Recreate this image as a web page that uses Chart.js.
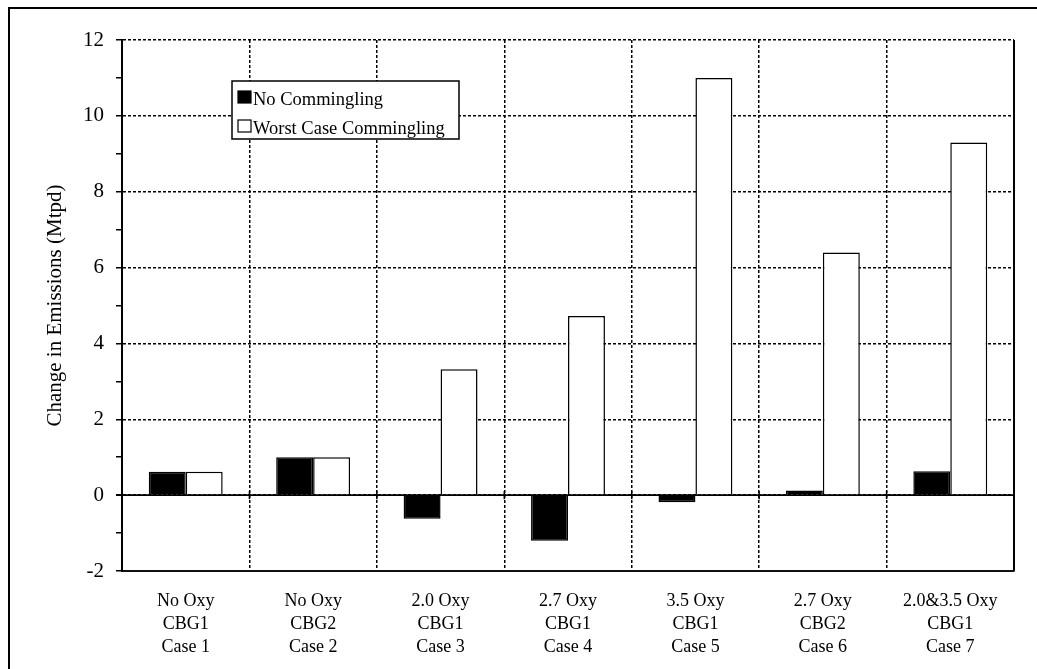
<!DOCTYPE html>
<html>
<head>
<meta charset="utf-8">
<title>Change in Emissions</title>
<script src="https://cdn.jsdelivr.net/npm/chart.js@4.4.1/dist/chart.umd.min.js"></script>
<style>
  html, body { margin: 0; padding: 0; background: #fff; }
  #wrap { width: 1037px; height: 669px; }
</style>
</head>
<body>
<div id="wrap"><canvas id="c" width="1037" height="669"></canvas></div>
<script>
// Scenario labels (three lines each)
const categories = [
  ['No Oxy', 'CBG1', 'Case 1'],
  ['No Oxy', 'CBG2', 'Case 2'],
  ['2.0 Oxy', 'CBG1', 'Case 3'],
  ['2.7 Oxy', 'CBG1', 'Case 4'],
  ['3.5 Oxy', 'CBG1', 'Case 5'],
  ['2.7 Oxy', 'CBG2', 'Case 6'],
  ['2.0&3.5 Oxy', 'CBG1', 'Case 7']
];
const seriesNames = ['No Commingling', 'Worst Case Commingling'];
const noCommingling = [0.62, 1.0, -0.62, -1.2, -0.19, 0.12, 0.63];
const worstCase = [0.62, 1.0, 3.32, 4.72, 11.0, 6.4, 9.3];
const yMin = -2, yMax = 12;
const yTickLabels = ['-2', '0', '2', '4', '6', '8', '10', '12'];
const yTitle = 'Change in Emissions (Mtpd)';

const SERIF = "'Liberation Serif', 'Times New Roman', serif";

// Frame, solid zero line, right edge and in-plot legend
const decorations = {
  id: 'decorations',
  beforeDraw(chart) {
    const { ctx, width, height } = chart;
    ctx.save();
    ctx.fillStyle = '#fff';
    ctx.fillRect(0, 0, width, height);
    ctx.restore();
  },
  afterDatasetsDraw(chart) {
    const { ctx, chartArea: a, scales } = chart;
    const y0 = scales.y.getPixelForValue(0);
    ctx.save();
    ctx.strokeStyle = '#000';
    ctx.lineWidth = 1.6;
    ctx.setLineDash([]);
    ctx.beginPath();
    ctx.moveTo(a.left - 6, y0);
    ctx.lineTo(a.right, y0);
    ctx.stroke();
    // small marks at category boundaries on the zero line
    const n = chart.data.labels.length;
    const step = (a.right - a.left) / n;
    ctx.lineWidth = 1.5;
    for (let i = 1; i < n; i++) {
      const x = a.left + i * step;
      ctx.beginPath();
      ctx.moveTo(x, y0 - 4);
      ctx.lineTo(x, y0 + 4);
      ctx.stroke();
    }
    // solid right edge of the plot
    ctx.lineWidth = 2;
    ctx.beginPath();
    ctx.moveTo(a.right, a.top);
    ctx.lineTo(a.right, a.bottom);
    ctx.stroke();
    ctx.restore();
  },
  afterDraw(chart) {
    const { ctx, width, height } = chart;
    ctx.save();
    // outer frame
    ctx.strokeStyle = '#000';
    ctx.lineWidth = 2;
    ctx.beginPath();
    ctx.moveTo(9, height);
    ctx.lineTo(9, 8);
    ctx.lineTo(width, 8);
    ctx.stroke();

    // legend box
    const bx = 232, by = 81, bw = 227, bh = 58;
    ctx.fillStyle = '#fff';
    ctx.fillRect(bx, by, bw, bh);
    ctx.lineWidth = 1.5;
    ctx.strokeRect(bx, by, bw, bh);
    ctx.font = '18.5px ' + SERIF;
    ctx.textBaseline = 'alphabetic';
    ctx.textAlign = 'left';
    chart.data.datasets.forEach((ds, i) => {
      const rowY = by + 10 + i * 29;
      ctx.fillStyle = ds.backgroundColor;
      ctx.fillRect(238, rowY, 13, 12);
      ctx.lineWidth = 1.2;
      ctx.strokeStyle = '#000';
      ctx.strokeRect(238, rowY, 13, 12);
      ctx.fillStyle = '#000';
      ctx.fillText(ds.label, 253, rowY + 14);
    });
    ctx.restore();
  }
};

new Chart(document.getElementById('c'), {
  type: 'bar',
  data: {
    labels: categories,
    datasets: [
      {
        label: seriesNames[0],
        data: noCommingling,
        backgroundColor: '#000',
        borderColor: '#000',
        borderWidth: 1.5,
        categoryPercentage: 0.58,
        barPercentage: 1.0
      },
      {
        label: seriesNames[1],
        data: worstCase,
        backgroundColor: '#fff',
        borderColor: '#000',
        borderWidth: 1.5,
        categoryPercentage: 0.58,
        barPercentage: 1.0
      }
    ]
  },
  options: {
    responsive: false,
    animation: false,
    devicePixelRatio: 1,
    layout: { padding: { left: 0, top: 40, right: 23, bottom: 0 } },
    plugins: {
      legend: { display: false },
      tooltip: { enabled: false },
      title: { display: false }
    },
    scales: {
      x: {
        offset: true,
        grid: {
          offset: true,
          color: '#000',
          lineWidth: 1.5,
          drawTicks: false
        },
        border: { display: true, color: '#111', width: 2, dash: [3, 2] },
        ticks: {
          color: '#000',
          font: { family: SERIF, size: 18, lineHeight: 23 / 18 },
          padding: 19,
          maxRotation: 0,
          autoSkip: false
        },
        afterFit(scale) { scale.height = 98; }
      },
      y: {
        min: yMin,
        max: yMax,
        grid: {
          color: (c) => (c.tick && c.tick.value % 2 === 0 ? '#000' : 'rgba(0,0,0,0)'),
          tickColor: '#000',
          lineWidth: 1.5,
          tickLength: 6,
          tickWidth: 1.5
        },
        border: { display: true, color: '#000', width: 2, dash: [3, 2] },
        ticks: {
          stepSize: 1,
          color: '#000',
          padding: 12,
          font: { family: SERIF, size: 21 },
          callback: (v) => (v % 2 === 0 ? yTickLabels[(v - yMin) / 2] : '')
        },
        title: {
          display: true,
          text: yTitle,
          color: '#000',
          font: { family: SERIF, size: 21 },
          padding: { top: 43, bottom: 0 }
        },
        afterFit(scale) { scale.width = 122; }
      }
    }
  },
  plugins: [decorations]
});
</script>
</body>
</html>
